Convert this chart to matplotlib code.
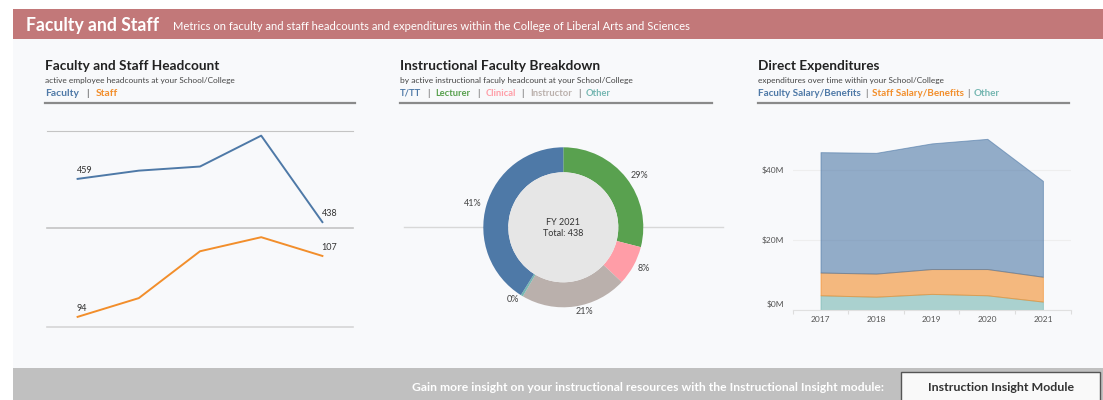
import matplotlib
matplotlib.use("Agg")
import matplotlib.pyplot as plt
import matplotlib.transforms as mtransforms
from matplotlib.patches import Rectangle, Circle
from matplotlib.lines import Line2D
from matplotlib.ticker import FixedLocator

# ---------------- data ----------------
years = [2017, 2018, 2019, 2020, 2021]
faculty_headcount = [459, 463, 465, 480, 438]
staff_headcount = [94, 98, 108, 111, 107]

breakdown_categories = ["T/TT", "Lecturer", "Clinical", "Instructor", "Other"]
breakdown_counts = [180, 127, 35, 94, 2]
breakdown_year = "FY 2021"

expense_categories = ["Faculty Salary/Benefits", "Staff Salary/Benefits", "Other"]
faculty_salary_m = [34.4, 34.5, 35.9, 37.2, 27.4]
staff_salary_m = [6.5, 6.6, 7.1, 7.5, 7.1]
other_expense_m = [4.2, 3.8, 4.6, 4.2, 2.4]
expense_ticks_m = [0, 20, 40]

# ---------------- style ----------------
BLUE, ORANGE, GREEN, PINK, GRAY, TEAL = "#4E79A7", "#F28E2B", "#59A14F", "#FF9DA7", "#BAB0AC", "#76B7B2"
cat_colors = {"T/TT": BLUE, "Lecturer": GREEN, "Clinical": PINK, "Instructor": GRAY, "Other": TEAL}
PANEL_BG = "#F8F9FB"
plt.rcParams['font.family'] = ['Lato', 'DejaVu Sans']

W, H = 1103, 400
fig = plt.figure(figsize=(W / 100, H / 100), dpi=100)
fig.patch.set_facecolor("white")
renderer = fig.canvas.get_renderer()


def fx(x):
    return x / W


def fy(y):
    return 1 - y / H


def axes_px(x0, y0, x1, y1):
    return fig.add_axes([x0 / W, 1 - y1 / H, (x1 - x0) / W, (y1 - y0) / H])


def rect_px(x0, y0, x1, y1, **kw):
    r = Rectangle((fx(x0), fy(y1)), (x1 - x0) / W, (y1 - y0) / H, transform=fig.transFigure, **kw)
    fig.add_artist(r)
    return r


def hline_px(x0, x1, y, **kw):
    fig.add_artist(Line2D([fx(x0), fx(x1)], [fy(y), fy(y)], transform=fig.transFigure, **kw))


def fit_text(x, y, s, width, ha='left', **kw):
    t = fig.text(fx(x), fy(y), s, fontsize=10, va='baseline', ha=ha, **kw)
    w = t.get_window_extent(renderer).width
    t.set_fontsize(10 * width / w)
    return t


def seg_text(x, y, parts, width, gap, weight='bold'):
    ts = []
    for s, c in parts:
        w_ = 'normal' if s == '|' else weight
        ts.append(fig.text(0, fy(y), s, fontsize=10, color=c, weight=w_, va='baseline', ha='left'))
    tot = sum(t.get_window_extent(renderer).width for t in ts)
    size = 10 * (width - gap * (len(ts) - 1)) / tot
    cur = x
    for t in ts:
        t.set_fontsize(size)
        t.set_x(fx(cur))
        cur += t.get_window_extent(renderer).width + gap


# ---------------- backgrounds ----------------
rect_px(13.3, 39.3, W, 367.7, facecolor=PANEL_BG, edgecolor='none', zorder=-5)
rect_px(13.3, 9, W, 39.3, facecolor="#C27879", edgecolor='none', zorder=-4)
rect_px(13.3, 367.7, W, H, facecolor="#C0C0C0", edgecolor='none', zorder=-4)

fit_text(26, 30.7, "Faculty and Staff", 133, color='white', weight='bold')
fit_text(173, 30.5, "Metrics on faculty and staff headcounts and expenditures within the College of Liberal Arts and Sciences",
         516, color='white')

# ---------------- panel headers ----------------
SEP = "#555555"
mid_parts = []
for i, c in enumerate(breakdown_categories):
    if i:
        mid_parts.append(("|", SEP))
    mid_parts.append((c, cat_colors[c]))

panels = [
    (45, 355, "Faculty and Staff Headcount", 174,
     "active employee headcounts at your School/College", 188,
     [("Faculty", BLUE), ("|", SEP), ("Staff", ORANGE)], 72, 7),
    (400, 711.7, "Instructional Faculty Breakdown", 200.7,
     "by active instructional faculy headcount at your School/College", 232,
     mid_parts, 211, 6),
    (758.3, 1069, "Direct Expenditures", 122,
     "expenditures over time within your School/College", 186,
     [("Faculty Salary/Benefits", BLUE), ("|", SEP), ("Staff Salary/Benefits", ORANGE),
      ("|", SEP), ("Other", TEAL)], 243, 4),
]

for x0, x1, title, tw, sub, sw, parts, lw_, gap in panels:
    fit_text(x0, 70, title, tw, color="#222222", weight='bold')
    fit_text(x0, 83.5, sub, sw, color="#444444")
    seg_text(x0, 96, parts, lw_, gap)
    hline_px(x0, x1, 103.3, color="#8A8A8A", lw=1.6)

# ---------------- headcount lines ----------------
def line_axes(y0, y1, values, color, ylim, top_spine=True, bottom_color="#C4C4C4"):
    ax = axes_px(47, y0, 353, y1)
    ax.patch.set_alpha(0)
    ax.plot(years, values, color=color, lw=1.4)
    ax.set_xlim(2016.5, 2021.5)
    ax.set_ylim(*ylim)
    ax.set_xticks([])
    ax.set_yticks([])
    for s in ['left', 'right']:
        ax.spines[s].set_visible(False)
    ax.spines['top'].set_visible(top_spine)
    ax.spines['top'].set_color("#C4C4C4")
    ax.spines['bottom'].set_color(bottom_color)
    ax.spines['bottom'].set_linewidth(1.2)
    for i in (0, len(years) - 1):
        ax.annotate(f"{values[i]}", (years[i], values[i]), xytext=(-0.5, 2.8), textcoords='offset points',
                    ha='left', va='bottom', fontsize=6.5, color="#333333")
    return ax

line_axes(130.7, 228.3, faculty_headcount, BLUE, (435.0, 482.4))
line_axes(228.3, 326.7, staff_headcount, ORANGE, (91.9, 112.9), top_spine=False, bottom_color="#D6D6D6")

# ---------------- donut ----------------
hline_px(404, 722.7, 227.3, color="#D8D8D8", lw=1.0, zorder=-1)
cx, cy = 563.3, 227.3
axd = axes_px(cx - 100, cy - 100, cx + 100, cy + 100)
axd.axis('off')
order = ["Lecturer", "Clinical", "Instructor", "Other", "T/TT"]
vals = [breakdown_counts[breakdown_categories.index(c)] for c in order]
total = sum(breakdown_counts)
labels = [f"{round(100 * v / total)}%" for v in vals]
axd.pie(vals, colors=[cat_colors[c] for c in order], radius=0.8, startangle=90, counterclock=False,
        labels=labels, labeldistance=1.06, textprops=dict(fontsize=6.5, color="#444444"),
        wedgeprops=dict(width=0.25, edgecolor='none'))
axd.add_patch(Circle((0, 0), 0.55, facecolor="#E6E6E6", edgecolor='none', zorder=3))
axd.text(0, 0.048, breakdown_year, ha='center', va='center', fontsize=6.5, color="#333333", zorder=4)
axd.text(0, -0.058, f"Total: {total}", ha='center', va='center', fontsize=6.5, color="#333333", zorder=4)
axd.set_xlim(-1, 1)
axd.set_ylim(-1, 1)
axd.set_aspect('equal')

# ---------------- stacked area ----------------
axa = axes_px(792.7, 130, 1070.7, 310)
axa.patch.set_alpha(0)
polys = axa.stackplot(years, other_expense_m, staff_salary_m, faculty_salary_m,
                      colors=[TEAL, ORANGE, BLUE], alpha=0.6, zorder=2)
for p, c in zip(polys, [TEAL, ORANGE, BLUE]):
    p.set_edgecolor(c)
    p.set_linewidth(0.7)
axa.set_xlim(2016.5, 2021.5)
axa.set_ylim(0, 180 / 3.5)
axa.set_yticks(expense_ticks_m)
axa.set_yticklabels([f"${v}M" for v in expense_ticks_m])
axa.set_xticks(years)
axa.set_xticklabels([str(y) for y in years])
axa.xaxis.set_minor_locator(FixedLocator([y + 0.5 for y in [2016] + years]))
axa.tick_params(axis='both', which='major', length=0, labelsize=6, labelcolor="#555555")
axa.tick_params(axis='x', which='major', pad=4)
axa.tick_params(axis='y', which='major', pad=6)
axa.tick_params(axis='x', which='minor', length=3, color="#DDDDDD", width=0.8)
axa.grid(axis='y', color="#EEEEEE", lw=0.8, zorder=0)
for s in ['top', 'right', 'left']:
    axa.spines[s].set_visible(False)
axa.spines['bottom'].set_color("#E0E0E0")
lbl0 = axa.get_yticklabels()[0]
lbl0.set_transform(lbl0.get_transform() + mtransforms.ScaledTranslation(0, 0.067, fig.dpi_scale_trans))

# ---------------- bottom band ----------------
fit_text(412.3, 391, "Gain more insight on your instructional resources with the Instructional Insight module:",
         471, color='white', weight='bold')
rect_px(900.7, 371.7, 1100, 403, facecolor="#F9F9F9", edgecolor="#555555", lw=1.0)
fit_text(1000.7, 391, "Instruction Insight Module", 146, ha='center', color="#333333", weight='bold')

fig.savefig("out.png", dpi=100, facecolor=fig.get_facecolor())
